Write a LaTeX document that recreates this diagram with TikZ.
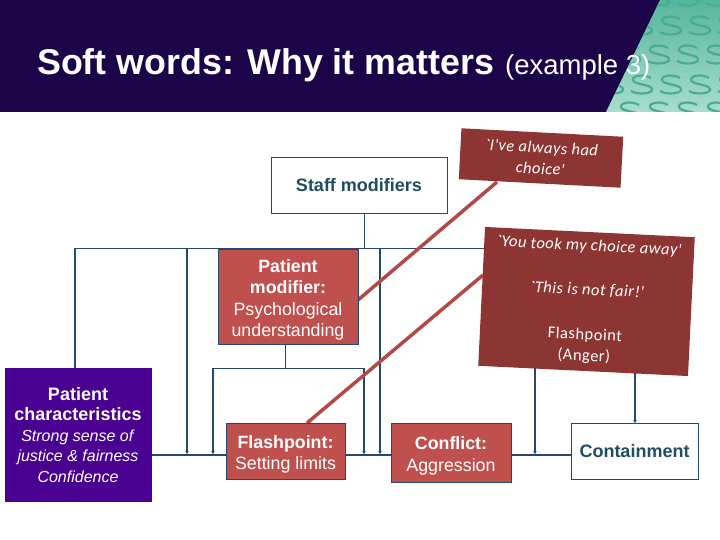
\documentclass[tikz,border=0pt]{standalone}
\usepackage{fontspec}
\setmainfont{Liberation Sans}
\newfontfamily\quotefont[LetterSpace=3]{Carlito}
\usetikzlibrary{arrows.meta,backgrounds}
\definecolor{navy}{HTML}{1C0449}
\definecolor{linkblue}{HTML}{24486F}
\definecolor{softred}{HTML}{C0504D}
\definecolor{darkred}{HTML}{8C3533}
\definecolor{deeppurple}{HTML}{4A0090}
\definecolor{inkteal}{HTML}{1F4E5F}
\definecolor{tealtop}{HTML}{55B69E}
\definecolor{tealbottom}{HTML}{A8DDCD}
\definecolor{tealmark}{HTML}{4BAA93}
\newcommand{\toproom}{\rule{0pt}{20pt}}
\tikzset{
  flow/.style={linkblue,line width=1.5pt},
  thin flow/.style={linkblue,line width=0.9pt},
  tip/.style={-{Stealth[length=3pt,width=3.5pt]}},
  slash/.style={softred!92!black,line width=3.5pt},
  redbox/.style={draw=linkblue,fill=softred,text=white,line width=0.8pt,align=center,inner sep=0pt,
    font=\fontsize{17.8}{21.5}\selectfont},
  whitebox/.style={draw=linkblue,fill=white,text=inkteal,line width=0.7pt,align=center,inner sep=0pt,
    font=\fontsize{18}{20}\selectfont\bfseries},
  quotebox/.style={fill=darkred,text=white,align=center,inner sep=0pt,
    font=\quotefont\fontsize{16.5}{21}\selectfont},
}
\begin{document}
\begin{tikzpicture}[x=1pt,y=-1pt]
  \useasboundingbox (0,0) rectangle (720,540);
  % header band
  \fill[navy] (0,0) rectangle (720,112);
  \begin{scope}
    \clip (660,0)--(720,0)--(720,112)--(606,112)--cycle;
    \shade[top color=tealtop,bottom color=tealbottom] (600,0) rectangle (720,112);
    \foreach \y/\off in {-3/0,26/12,55/0,85/12,112/0} {
      \foreach \i in {0,...,5} {
        \draw[tealmark,line width=2.2pt,shift={(590+\off+29*\i,\y)}]
          (20,-7) .. controls (14,-11) and (1,-10) .. (2,-5)
          .. controls (3,0) and (20,-1) .. (21,4)
          .. controls (22,9) and (6,10) .. (0,6);
      }
    }
  \end{scope}
  \node[anchor=base west,inner sep=0pt,white,font=\fontsize{35.8}{40}\selectfont\bfseries] (title) at (37,75) {Soft words: Why it matters};
  \node[anchor=base west,inner sep=0pt,white,font=\fontsize{27.5}{30}\selectfont] (subtitle) at (505,75) {(example 3)};

  % boxes
  \node[whitebox,minimum width=176pt,minimum height=56pt] (staff) at (359,185) {Staff modifiers};
  \node[redbox,minimum width=140pt,minimum height=95pt] (patmod) at (288,296.5) {\toproom\textbf{Patient}\\\textbf{modifier:}\\Psychological\\understanding};
  \node[redbox,minimum width=146pt,minimum height=133pt,fill=deeppurple,draw=deeppurple,font=\fontsize{16}{20.5}\selectfont] (patchar) at (78,435)
    {{\fontsize{18}{20.5}\selectfont\textbf{Patient}}\\{\fontsize{18}{20.5}\selectfont\textbf{characteristics}}\\\textit{Strong sense of}\\\textit{justice \& fairness}\\\textit{Confidence}};
  \node[redbox,minimum width=119pt,minimum height=56pt] (flash) at (285.5,451) {\toproom\textbf{Flashpoint:}\\Setting limits};
  \node[redbox,minimum width=120pt,minimum height=59pt] (conflict) at (451,452.5) {\toproom\textbf{Conflict:}\\Aggression};
  \node[whitebox,minimum width=127pt,minimum height=56pt] (contain) at (634.5,451) {Containment};
  \node[quotebox,minimum width=162pt,minimum height=51pt,rotate=-3] (always) at (541,158)
    {\textit{`I've always had}\\\textit{choice'}};
  \node[quotebox,minimum width=210pt,minimum height=139pt,rotate=-2.8] (anger) at (586.5,301.5)
    {\textit{`You took my choice away'}\\[23pt]\textit{`This is not fair!'}\\[24pt]Flashpoint\\(Anger)};

  % junctions
  \coordinate (barL) at (75,248);
  \coordinate (barM) at (187,248);
  \coordinate (barS) at (364,248);
  \coordinate (barR) at (380,248);
  \coordinate (barE) at (490,248);
  \coordinate (subL) at (213,368);
  \coordinate (subM) at (285,368);
  \coordinate (subR) at (364,368);
  \coordinate (alwaysfoot) at (497,182);
  \coordinate (patmodside) at (358,300);
  \coordinate (angerside) at (483,275);
  \coordinate (flashtop) at (307,423);

  \begin{scope}[on background layer]
    \draw[thin flow] (barL)--(barE);
    \draw[thin flow] (staff.south -| barS)--(barS);
    \draw[flow] (barL)--(barL |- patchar.north);
    \draw[thin flow] (patmod.south -| subM)--(subM);
    \draw[thin flow] (subL)--(subR);
    \draw[flow] (patchar.east |- 0,455)--(flash.west |- 0,455);
    \draw[flow] (flash.east |- 0,455)--(conflict.west |- 0,455);
    \draw[flow] (conflict.east |- 0,455)--(contain.west |- 0,455);
    \foreach \v in {barM,barR,subL,subR} {
      \draw[flow,tip] (\v)--(\v |- 0,454);
    }
    \draw[flow,tip] (535,366)--(535,454);
    \draw[flow,tip] (635,371)--(635,423);
    \draw[slash] (alwaysfoot)--(patmodside);
    \draw[slash] (angerside)--(flashtop);
  \end{scope}
\end{tikzpicture}
\end{document}
